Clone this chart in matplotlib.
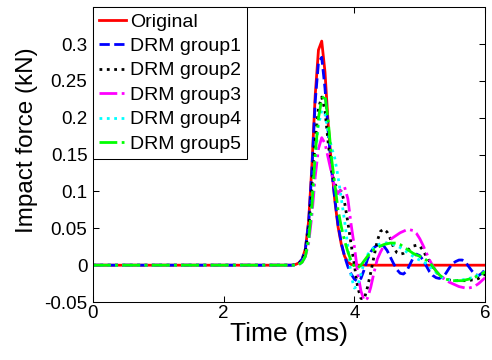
import matplotlib
matplotlib.use('Agg')
import matplotlib.pyplot as plt

plt.rcParams['font.family'] = ['Liberation Sans', 'DejaVu Sans']

# time axis (ms)
t = [0.0,
     3.00, 3.05, 3.10, 3.15, 3.20, 3.25, 3.30, 3.35, 3.40, 3.45,
     3.50, 3.55, 3.60, 3.65, 3.70, 3.75, 3.80, 3.85, 3.90, 3.95,
     4.00, 4.05, 4.10, 4.15, 4.20, 4.25, 4.30, 4.35, 4.40, 4.45,
     4.50, 4.55, 4.60, 4.65, 4.70, 4.75, 4.80, 4.85, 4.90, 4.95,
     5.00, 5.05, 5.10, 5.15, 5.20, 5.25, 5.30, 5.35, 5.40, 5.45,
     5.50, 5.55, 5.60, 5.65, 5.70, 5.75, 5.80, 5.85, 5.90, 5.95,
     6.00]

original = [0.0,
            0, 0, 0.001, 0.003, 0.008, 0.022, 0.06, 0.135, 0.23, 0.292,
            0.304, 0.262, 0.19, 0.135, 0.088, 0.052, 0.028, 0.012, 0.004, 0.001,
            0, 0, 0, 0, 0, 0, 0, 0, 0, 0,
            0, 0, 0, 0, 0, 0, 0, 0, 0, 0,
            0, 0, 0, 0, 0, 0, 0, 0, 0, 0,
            0, 0, 0, 0, 0, 0, 0, 0, 0, 0,
            0]

group1 = [0.0,
          0, 0, 0.001, 0.003, 0.008, 0.022, 0.058, 0.13, 0.222, 0.275,
          0.282, 0.24, 0.18, 0.13, 0.09, 0.055, 0.03, 0.012, -0.002, -0.012,
          -0.019, -0.022, -0.018, -0.006, 0.008, 0.018, 0.024, 0.027, 0.028, 0.026,
          0.02, 0.011, 0.002, -0.006, -0.011, -0.012, -0.008, 0.001, 0.01, 0.015,
          0.013, 0.007, -0.001, -0.009, -0.014, -0.017, -0.018, -0.016, -0.011, -0.004,
          0.002, 0.005, 0.007, 0.007, 0.004, -0.002, -0.008, -0.013, -0.014, -0.011,
          -0.006]

group2 = [0.0,
          0, 0, 0.001, 0.002, 0.006, 0.018, 0.05, 0.105, 0.17, 0.213,
          0.228, 0.21, 0.165, 0.128, 0.11, 0.104, 0.10, 0.085, 0.058, 0.028,
          0.0, -0.03, -0.045, -0.046, -0.03, -0.01, 0.012, 0.033, 0.046, 0.049,
          0.045, 0.036, 0.024, 0.017, 0.015, 0.016, 0.019, 0.023, 0.026, 0.027,
          0.026, 0.02, 0.012, 0.005, -0.003, -0.009, -0.014, -0.017, -0.019, -0.02,
          -0.021, -0.021, -0.021, -0.021, -0.021, -0.021, -0.02, -0.02, -0.018, -0.015,
          -0.012]

group3 = [0.0,
          0, 0, 0.0, 0.001, 0.004, 0.012, 0.03, 0.068, 0.12, 0.158,
          0.173, 0.165, 0.145, 0.125, 0.105, 0.097, 0.103, 0.106, 0.09, 0.055,
          0.025, -0.01, -0.035, -0.048, -0.045, -0.03, -0.01, 0.008, 0.018, 0.026,
          0.031, 0.035, 0.038, 0.041, 0.044, 0.046, 0.048, 0.048, 0.047, 0.043,
          0.036, 0.027, 0.017, 0.007, -0.001, -0.008, -0.013, -0.017, -0.02, -0.023,
          -0.025, -0.027, -0.029, -0.03, -0.031, -0.031, -0.03, -0.028, -0.025, -0.021,
          -0.017]

group4 = [0.0,
          0, 0, 0.0, 0.001, 0.004, 0.012, 0.035, 0.08, 0.145, 0.19,
          0.21, 0.205, 0.18, 0.16, 0.145, 0.12, 0.09, 0.06, 0.025, -0.015,
          -0.031, -0.028, -0.012, 0.004, 0.014, 0.02, 0.024, 0.027, 0.029, 0.03,
          0.03, 0.029, 0.028, 0.026, 0.024, 0.021, 0.018, 0.015, 0.012, 0.009,
          0.007, 0.005, 0.002, -0.002, -0.006, -0.01, -0.014, -0.017, -0.019, -0.02,
          -0.021, -0.021, -0.021, -0.02, -0.019, -0.018, -0.017, -0.015, -0.013, -0.011,
          -0.009]

group5 = [0.0,
          0, 0, 0.0, 0.001, 0.004, 0.012, 0.035, 0.08, 0.15, 0.2,
          0.225, 0.231, 0.195, 0.145, 0.11, 0.075, 0.052, 0.033, 0.018, 0.006,
          -0.002, -0.004, 0.0, 0.006, 0.012, 0.017, 0.021, 0.024, 0.026, 0.028,
          0.029, 0.03, 0.03, 0.03, 0.028, 0.025, 0.022, 0.019, 0.016, 0.014,
          0.012, 0.01, 0.007, 0.004, -0.002, -0.008, -0.013, -0.017, -0.019, -0.02,
          -0.021, -0.021, -0.021, -0.021, -0.02, -0.019, -0.018, -0.016, -0.014, -0.012,
          -0.009]

labels = ['Original', 'DRM group1', 'DRM group2', 'DRM group3', 'DRM group4', 'DRM group5']
series = [original, group1, group2, group3, group4, group5]
colors = ['#ff0000', '#0000ff', '#000000', '#ff00ff', '#00ffff', '#00ff00']
styles = ['-', '--', ':', '-.', ':', '-.']

xticks = [0, 2, 4, 6]
yticks = [-0.05, 0, 0.05, 0.1, 0.15, 0.2, 0.25, 0.3]
ytick_labels = ['-0.05', '0', '0.05', '0.1', '0.15', '0.2', '0.25', '0.3']

fig = plt.figure(figsize=(4.92, 3.6), dpi=100)
ax = fig.add_axes([0.189, 0.161, 0.797, 0.819])

for y, lab, c, ls in zip(series, labels, colors, styles):
    ax.plot(t, y, color=c, linestyle=ls, linewidth=2, label=lab)

ax.set_xlim(0, 6)
ax.set_ylim(-0.05, 0.35)
ax.set_xticks(xticks)
ax.set_yticks(yticks)
ax.set_yticklabels(ytick_labels)
ax.tick_params(direction='in', top=True, right=True, length=4, width=0.75,
               labelsize=13.5, pad=2)
ax.tick_params(axis='y', pad=4)
for s in ax.spines.values():
    s.set_linewidth(0.75)

ax.set_xlabel('Time (ms)', fontsize=19, labelpad=0)
ax.set_ylabel('Impact force (kN)', fontsize=17.5)
ax.yaxis.set_label_coords(-0.14, 0.55)

leg = ax.legend(loc='upper left', fontsize=14, borderaxespad=0, fancybox=False,
                edgecolor='black', framealpha=1, handlelength=1.4,
                handletextpad=0.2, borderpad=0.3, labelspacing=0.35)
leg.get_frame().set_linewidth(0.75)

fig.savefig('out.png', dpi=100)
